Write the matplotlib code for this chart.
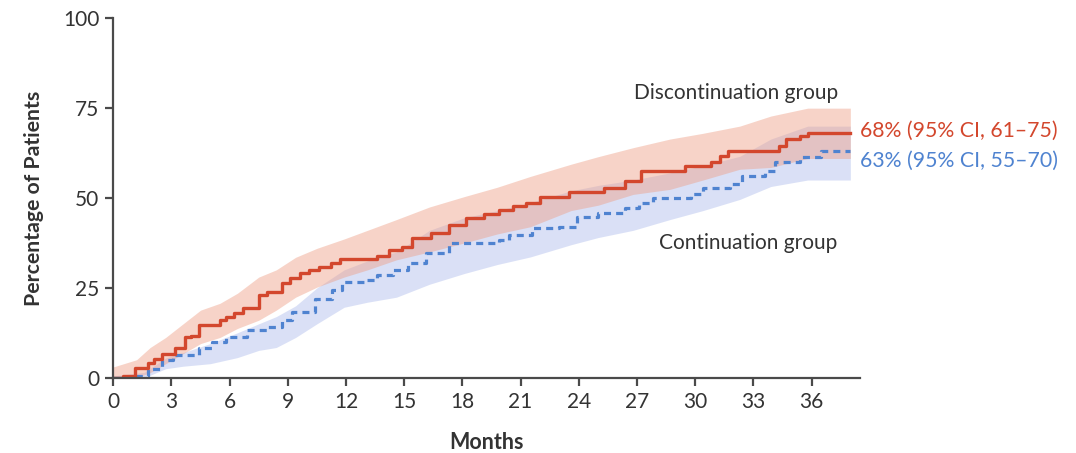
import matplotlib
matplotlib.use("Agg")
import matplotlib.pyplot as plt

plt.rcParams['font.family'] = ['Lato', 'DejaVu Sans']

# Cumulative incidence, discontinuation group (solid red)
disc_months = [0, 0.5, 1.1, 1.8, 2.1, 2.5, 3.2, 3.7, 4.0, 4.4, 5.5, 5.8, 6.2, 6.7, 7.5, 7.9,
               8.7, 9.1, 9.6, 10.1, 10.6, 11.2, 11.7, 13.6, 14.2, 14.9, 15.4, 16.4, 17.3, 18.2,
               19.1, 19.9, 20.6, 21.3, 22.0, 23.5, 25.3, 26.4, 27.2, 29.5, 30.8, 31.3, 31.7,
               34.3, 34.7, 35.4, 35.8, 38.0]
disc_pct = [0, 0.5, 2.8, 4.2, 5.3, 6.7, 8.4, 11.2, 11.6, 14.6, 16.0, 16.8, 17.9, 19.3, 23.0, 23.8,
            26.3, 27.7, 29.0, 30.0, 30.8, 31.9, 33.0, 33.9, 35.6, 36.4, 38.9, 40.3, 42.5, 44.5,
            45.5, 46.8, 47.8, 48.7, 50.4, 51.8, 52.9, 54.6, 57.4, 58.8, 59.9, 61.6, 63.0,
            64.4, 66.4, 67.2, 68.0, 68.0]

# Cumulative incidence, continuation group (dashed blue)
cont_months = [0, 1.2, 1.8, 2.5, 3.1, 4.4, 5.1, 5.8, 6.9, 7.9, 8.7, 9.2, 10.4, 11.3, 11.8, 13.1,
               13.6, 14.4, 15.2, 16.1, 17.3, 19.9, 20.4, 21.6, 23.0, 23.9, 25.0, 26.4, 27.1,
               27.8, 29.8, 30.4, 31.8, 32.4, 33.6, 34.1, 35.4, 36.5, 38.0]
cont_pct = [0, 0.5, 2.5, 4.8, 6.2, 8.4, 9.8, 11.2, 13.2, 14.0, 16.0, 18.2, 22.0, 24.4, 26.6, 27.2,
            28.6, 30.0, 31.9, 34.7, 37.5, 38.4, 39.8, 41.7, 42.0, 44.8, 45.9, 47.3, 48.7,
            50.1, 51.0, 52.9, 53.8, 56.0, 57.4, 59.9, 61.3, 63.0, 63.0]

# 95% confidence bands
disc_ci_months = [0, 1.2, 1.9, 2.7, 3.6, 4.5, 5.5, 6.4, 7.5, 8.4, 9.4, 10.5, 11.9, 13.1, 14.6,
                  16.3, 18.1, 19.8, 21.5, 23.6, 25.0, 26.8, 28.7, 30.4, 32.3, 33.9, 35.8, 38.0]
disc_ci_low = [0, 0, 1.4, 3.9, 6.7, 9.5, 11.2, 13.7, 16.0, 18.8, 22.4, 25.2, 28.0, 30.0, 32.8,
               35.0, 37.5, 40.0, 42.0, 46.5, 48.0, 51.0, 52.4, 55.0, 58.0, 58.5, 61.0, 61.0]
disc_ci_high = [3.0, 5.0, 8.4, 11.2, 15.0, 18.8, 20.7, 23.5, 28.0, 30.0, 33.5, 36.0, 38.6, 41.0,
                44.0, 47.5, 50.4, 53.0, 56.0, 59.4, 61.5, 64.0, 66.4, 68.0, 70.0, 72.8, 75.0, 75.0]

cont_ci_months = [0, 1.6, 2.7, 3.6, 5.0, 6.4, 7.5, 8.4, 9.4, 10.5, 11.9, 13.1, 14.6, 16.3, 18.1,
                  19.8, 21.5, 23.6, 25.0, 26.8, 28.7, 30.4, 32.3, 33.9, 35.8, 38.0]
cont_ci_low = [0, 0, 2.5, 3.2, 3.9, 5.6, 7.6, 8.4, 11.2, 15.0, 19.6, 21.0, 22.4, 26.0, 29.0,
               31.5, 33.6, 37.0, 39.0, 41.0, 44.0, 46.5, 49.6, 53.2, 55.0, 55.0]
cont_ci_high = [0.5, 1.5, 5.5, 7.0, 9.5, 12.5, 15.0, 17.0, 20.0, 25.0, 30.0, 32.5, 35.0, 41.0,
                44.5, 46.5, 48.7, 52.0, 53.5, 55.0, 57.0, 59.0, 61.6, 66.4, 70.0, 70.0]

x_ticks = list(range(0, 37, 3))
y_ticks = [0, 25, 50, 75, 100]

disc_label = "68% (95% CI, 61\u201375)"
cont_label = "63% (95% CI, 55\u201370)"

RED = '#d3472d'
BLUE = '#4f83d0'
TEXT = '#333333'
AXIS = '#4a4a4a'

fig = plt.figure(figsize=(10.76, 4.53), dpi=100)
ax = fig.add_axes([0.1053, 0.1662, 0.6940, 0.7934])

ax.fill_between(cont_ci_months, cont_ci_low, cont_ci_high,
                color='#aebcec', alpha=0.45, linewidth=0)
ax.fill_between(disc_ci_months, disc_ci_low, disc_ci_high,
                color='#ee9f86', alpha=0.45, linewidth=0)

ax.plot(cont_months, cont_pct, drawstyle='steps-post', color=BLUE, lw=2.3,
        linestyle=(0, (2.2, 1.6)))
ax.plot(disc_months, disc_pct, drawstyle='steps-post', color=RED, lw=2.4)

ax.set_xlim(0, 38.5)
ax.set_ylim(0, 100)
ax.set_xticks(x_ticks)
ax.set_yticks(y_ticks)

for side in ('top', 'right'):
    ax.spines[side].set_visible(False)
for side in ('left', 'bottom'):
    ax.spines[side].set_color(AXIS)
    ax.spines[side].set_linewidth(1.6)
ax.tick_params(axis='both', direction='out', length=6, width=1.6, color=AXIS,
               labelsize=15, labelcolor=TEXT, pad=4)

ax.set_xlabel("Months", fontsize=15.5, fontweight='bold', color=TEXT, labelpad=15)
ax.set_ylabel("Percentage of Patients", fontsize=15.3, fontweight='bold', color=TEXT,
              labelpad=14)

ax.text(37.35, 79.2, "Discontinuation group", ha='right', va='center', fontsize=15,
        color=TEXT)
ax.text(37.35, 37.5, "Continuation group", ha='right', va='center', fontsize=15,
        color=TEXT)
ax.text(38.5, 68.6, disc_label, ha='left', va='center', fontsize=15.3, color=RED,
        clip_on=False)
ax.text(38.5, 60.3, cont_label, ha='left', va='center', fontsize=15.3, color=BLUE,
        clip_on=False)

fig.savefig("out.png", dpi=100, facecolor='white')
